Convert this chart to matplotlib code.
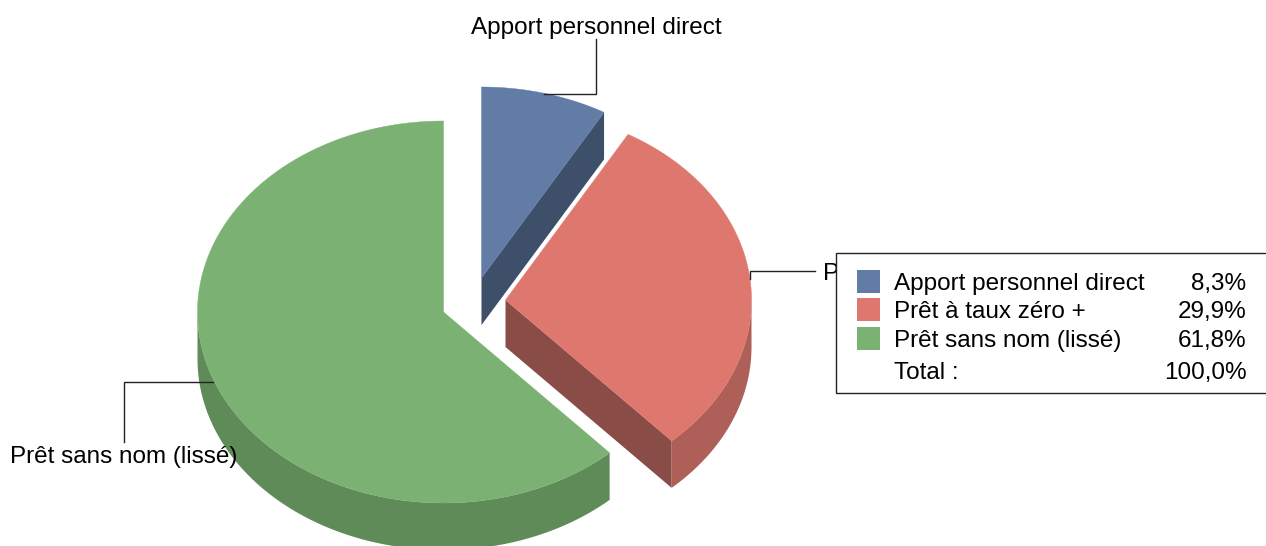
import numpy as np
import matplotlib
matplotlib.use("Agg")
import matplotlib.pyplot as plt
from matplotlib.patches import Rectangle

plt.rcParams['font.family'] = ['Liberation Sans', 'DejaVu Sans']

# Data
categories = ["Apport personnel direct", "Prêt à taux zéro +", "Prêt sans nom (lissé)"]
values = [8.3, 29.9, 61.8]
total_label = "Total :"

# Style / layout
top_colors = ["#627CA6", "#DE786F", "#7BB172"]
wall_colors = ["#4A5D7D", "#AD5F58", "#5F8B59"]
cut_colors = ["#3E4F6A", "#8A4C47", "#4F7449"]
centers = [(481.5, 278), (505.5, 300), (443.5, 312)]
RX, RY, DEPTH = 246, 191, 47
FS = 17.45
LINE = "#222222"

fig = plt.figure(figsize=(12.66, 5.46), dpi=100)
ax = fig.add_axes([0, 0, 1, 1])
ax.set_xlim(0, 1266)
ax.set_ylim(546, 0)
ax.axis("off")


def rim(c, a0, a1, n=160):
    t = np.radians(np.linspace(a0, a1, n))
    return c[0] + RX * np.sin(t), c[1] - RY * np.cos(t)


cum = np.concatenate([[0], np.cumsum(values)]) / np.sum(values) * 360
for i in range(len(values)):
    a0, a1, c = cum[i], cum[i + 1], centers[i]
    # cut face at the end of the slice
    if 0 < a1 < 180:
        ex, ey = rim(c, a1, a1, 1)
        ax.fill([c[0], ex[0], ex[0], c[0]],
                [c[1], ey[0], ey[0] + DEPTH, c[1] + DEPTH],
                color=cut_colors[i], lw=0, zorder=2)
    # outer wall
    w0, w1 = max(a0, 90), min(a1, 270)
    if w1 > w0:
        x, y = rim(c, w0, w1)
        ax.fill(np.r_[x, x[::-1]], np.r_[y, y[::-1] + DEPTH],
                color=wall_colors[i], lw=0, zorder=2)
    # top face
    x, y = rim(c, a0, a1)
    ax.fill(np.r_[c[0], x], np.r_[c[1], y], facecolor=top_colors[i],
            edgecolor=top_colors[i], lw=0.3, zorder=3)

# Leader lines and labels
ax.plot([544, 596, 596], [94, 94, 39], color=LINE, lw=1, zorder=4, solid_joinstyle="miter")
ax.plot([750, 750, 815], [279, 271, 271], color=LINE, lw=1, zorder=4, solid_joinstyle="miter")
ax.plot([213, 124, 124], [382, 382, 442], color=LINE, lw=1, zorder=4, solid_joinstyle="miter")
ax.text(596, 28, categories[0], fontsize=FS, ha="center", va="center", color="black", zorder=5)
ax.text(823, 274, categories[1], fontsize=FS, ha="left", va="center", color="black", zorder=5)
ax.text(124, 457, categories[2], fontsize=FS, ha="center", va="center", color="black", zorder=5)

# Legend box
ax.add_patch(Rectangle((836, 253), 460, 140, facecolor="white", edgecolor="#222222",
                       lw=1, zorder=6, clip_on=True))
row_y = [284, 312, 341]
for yy, name, val, col in zip(row_y, categories, values, top_colors):
    ax.add_patch(Rectangle((857, yy - 14), 23, 23, facecolor=col, edgecolor="none", zorder=7))
    ax.text(894, yy, name, fontsize=FS, ha="left", va="center", color="black", zorder=7)
    ax.text(1246.5, yy, f"{val:.1f}%".replace(".", ","), fontsize=FS, ha="right", va="center",
            color="black", zorder=7)
ax.text(894, 373, total_label, fontsize=FS, ha="left", va="center", color="black", zorder=7)
ax.text(1246.5, 373, f"{sum(values):.1f}%".replace(".", ","), fontsize=FS, ha="right", va="center",
        color="black", zorder=7)

fig.savefig("out.png", dpi=100, facecolor="white")
